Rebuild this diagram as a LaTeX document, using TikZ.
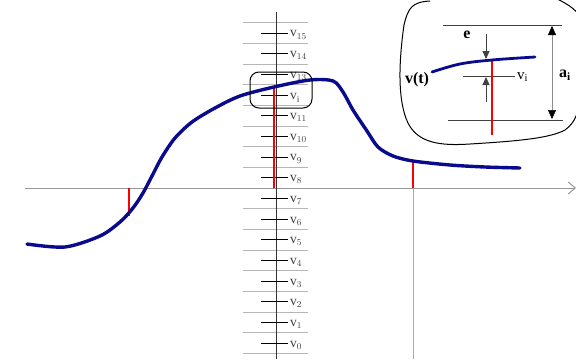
\documentclass[tikz,border=0pt]{standalone}
\usepackage{fontspec}
\setmainfont{Liberation Serif}
\usetikzlibrary{arrows.meta}
\definecolor{curveblue}{RGB}{10,10,140}
\definecolor{axgray}{RGB}{150,150,150}
\definecolor{lblgray}{RGB}{60,60,60}
\tikzset{
  curve/.style={curveblue,line width=3.4pt,line cap=round,line join=round},
  redmark/.style={red,line width=1.6pt},
  tickmark/.style={black,line width=0.9pt},
  gridline/.style={axgray!70,line width=0.6pt},
  vlabel/.style={anchor=west,inner sep=0pt,text=lblgray,font=\fontsize{13.5}{13.5}\selectfont},
  boldlabel/.style={inner sep=0pt,font=\bfseries\fontsize{16}{16}\selectfont},
  thinline/.style={black!75,line width=0.8pt},
  tri/.style={-{Triangle[length=8pt,width=7pt]}},
}
\begin{document}
\begin{tikzpicture}[x=1pt,y=-1pt]
\useasboundingbox (0,0) rectangle (576,359);
\begin{scope}
\clip (0,0) rectangle (576,359);
% gridlines between ticks
\foreach \i in {0,...,15} {
  \pgfmathsetmacro{\yy}{343-20.67*\i-10.3}
  \draw[gridline] (243,\yy) -- (308,\yy);
}
\draw[gridline] (243,353) -- (308,353);
% horizontal axis
\coordinate (hstart) at (25,188);
\coordinate (hend) at (576,188);
\draw[axgray,line width=1pt,-{Straight Barb[length=7pt,width=12pt]}] (hstart) -- (hend);
% vertical axis
\coordinate (vtop) at (276,12);
\coordinate (vbot) at (276,359);
\draw[black!80,line width=0.9pt] (vtop) -- (vbot);
% ticks and labels
\foreach \i in {0,...,11,13,14,15} {
  \pgfmathsetmacro{\yy}{343-20.67*\i}
  \draw[tickmark] (261,\yy) -- (288,\yy);
  \node[vlabel] (lab\i) at (290,\yy+2) {v$_{\i}$};
}
\pgfmathsetmacro{\yy}{343-20.67*12}
\draw[tickmark] (261,\yy) -- (288,\yy);
\node[vlabel] (lab12) at (290,\yy+3) {v$_{\mathrm{i}}$};
% gray vertical line
\coordinate (g1) at (413,188);
\coordinate (g2) at (413,359);
\draw[axgray!80,line width=0.6pt] (g1) -- (g2);
% red markers
\coordinate (r1a) at (129,188); \coordinate (r1b) at (129,216);
\coordinate (r2a) at (274,188); \coordinate (r2b) at (274,88);
\coordinate (r3a) at (413,188); \coordinate (r3b) at (413,162);
\draw[redmark] (r1a) -- (r1b);
\draw[redmark] (r2a) -- (r2b);
\draw[redmark] (r3a) -- (r3b);
% curve
\draw[curve] plot[smooth,tension=0.5] coordinates {
 (27,244) (65,247) (100,236) (120,222) (133,208) (143,193) (152,176) (162,157) (175,138)
 (192,122) (215,108) (240,96) (274,87) (310,80) (333,81) (343,92) (353,110) (367,131)
 (378,147) (393,156) (413,161) (450,165) (485,167) (520,168)};
% rounded box
\draw[black,line width=1pt,rounded corners=9pt] (250,72) rectangle (312,108);
% inset blob
\draw[black,line width=1pt] (430,1) .. controls (412,2) and (408,8) .. (404,25)
  .. controls (399,60) and (397,100) .. (408,123)
  .. controls (418,143) and (440,146) .. (470,144)
  .. controls (520,141) and (550,138) .. (565,130)
  .. controls (576,122) and (578,112) .. (580,100);
\draw[black,line width=1pt] (555,-2) .. controls (566,3) and (574,8) .. (580,16);
\end{scope}
% inset contents
\coordinate (t1) at (443,25); \coordinate (t2) at (562,25);
\coordinate (b1) at (448,120); \coordinate (b2) at (563,120);
\coordinate (m1) at (463,76); \coordinate (m2) at (515,76);
\draw[thinline] (t1) -- (t2);
\draw[thinline] (b1) -- (b2);
\draw[thinline] (m1) -- (m2);
\node[vlabel,text=black,font=\fontsize{15}{15}\selectfont] (vilab) at (517,77) {v$_{\mathrm{i}}$};
\coordinate (ir1) at (492,60); \coordinate (ir2) at (492,135);
\draw[redmark,line width=2.2pt] (ir1) -- (ir2);
\draw[curve,line width=2.8pt] plot[smooth,tension=0.6] coordinates {(432,72) (460,64) (492,60) (535,57)};
\coordinate (da1) at (486,34); \coordinate (da2) at (486,59);
\draw[thinline,tri] (da1) -- (da2);
\coordinate (ua1) at (486,102); \coordinate (ua2) at (486,77);
\draw[thinline,tri] (ua1) -- (ua2);
\coordinate (aa1) at (552,26); \coordinate (aa2) at (552,119);
\draw[black!45,line width=0.5pt,{Triangle[length=9pt,width=8pt,fill=black,color=black]}-{Triangle[length=9pt,width=8pt,fill=black,color=black]}] (aa1) -- (aa2);
\node[boldlabel] (vt) at (417,80) {v(t)};
\node[boldlabel] (e) at (467,35) {e};
\node[boldlabel,anchor=west] (ai) at (559,75) {a$_{\mathbf{i}}$};
\end{tikzpicture}
\end{document}
